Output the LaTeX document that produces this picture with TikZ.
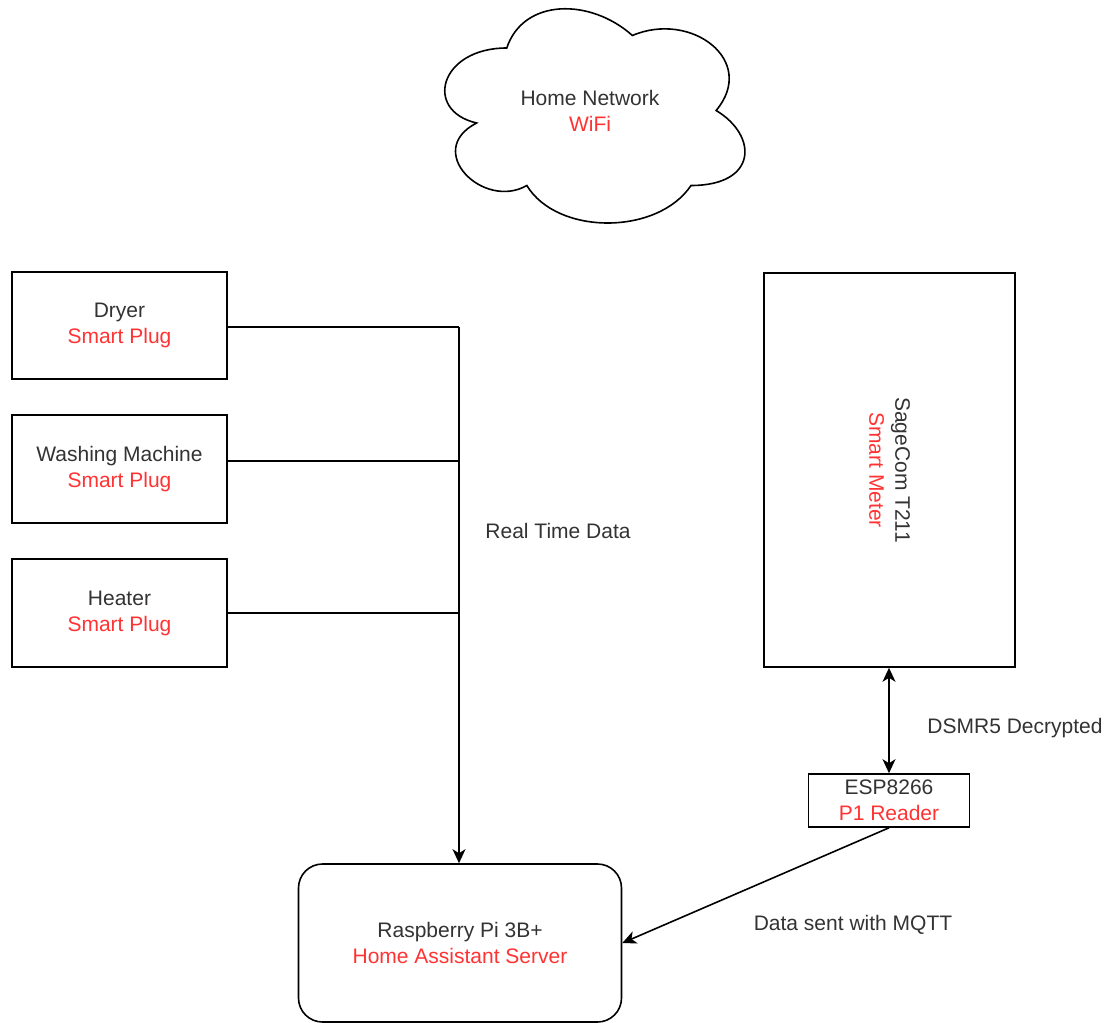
\documentclass[tikz,border=0pt]{standalone}
\usepackage{fontspec}
\setmainfont{Liberation Sans}
\usetikzlibrary{arrows.meta}
\definecolor{txtdark}{HTML}{333333}
\definecolor{txtred}{HTML}{FF3333}
\newcommand{\dk}[1]{\textcolor{txtdark}{#1}}
\newcommand{\rd}[1]{\textcolor{txtred}{#1}}
\begin{document}
\begin{tikzpicture}[x=1pt,y=-1pt,
  every node/.style={font=\fontsize{21}{26}\selectfont, text=txtdark},
  boxnode/.style={draw=black, line width=1.6pt, inner sep=0pt, align=center, fill=white},
  conn/.style={draw=black, line width=1.6pt},
  tip/.style={-{Stealth[length=14pt,width=13pt,inset=4pt]}},
  lbl/.style={inner sep=0pt}
]
\useasboundingbox (0,0) rectangle (1112,1023);
\fill[white] (0,0) rectangle (1112,1023);

% cloud
\draw[line width=1.6pt, fill=white]
  (506.75,48) .. controls (439.75,48) and (423,110.5) .. (476.6,123)
  .. controls (423,150.5) and (483.3,210.5) .. (526.85,185.5)
  .. controls (557,235.5) and (657.5,235.5) .. (691,185.5)
  .. controls (758,185.5) and (758,135.5) .. (716.125,110.5)
  .. controls (758,60.5) and (691,10.5) .. (632.375,35.5)
  .. controls (590.5,-2) and (523.5,-2) .. (506.75,48) -- cycle;
\node[lbl, align=center] (net) at (590,111) {\dk{Home Network}\\\rd{WiFi}};

% smart plugs
\node[boxnode, minimum width=215pt, minimum height=107pt] (dryer) at (119.5,325.5) {\dk{Dryer}\\\rd{Smart Plug}};
\node[boxnode, minimum width=215pt, minimum height=108pt] (wash) at (119.5,469) {\dk{Washing Machine}\\\rd{Smart Plug}};
\node[boxnode, minimum width=215pt, minimum height=108pt] (heat) at (119.5,613) {\dk{Heater}\\\rd{Smart Plug}};

% raspberry pi
\node[boxnode, rounded corners=24pt, minimum width=323pt, minimum height=158pt] (pi) at (460,943) {\dk{Raspberry Pi 3B+}\\\rd{Home Assistant Server}};

% smart meter
\node[boxnode, minimum width=251pt, minimum height=394pt] (meter) at (889.5,470) {};
\node[lbl, rotate=-90, align=center] (meterlbl) at (meter.center) {\dk{SageCom T211}\\\rd{Smart Meter}};

% esp
\node[boxnode, minimum width=161pt, minimum height=53pt] (esp) at (889,800.5) {\dk{ESP8266}\\\rd{P1 Reader}};

% junction
\coordinate (bus) at (459,327);

% connectors
\draw[conn] (dryer.east |- bus) -- (bus);
\draw[conn, tip] (bus) -- (bus |- pi.north);
\draw[conn] ([yshift=8pt]wash.east) -- ([yshift=8pt]wash.east -| bus);
\draw[conn] (heat.east) -- (heat.east -| bus);
\draw[conn, {Stealth[length=14pt,width=13pt,inset=4pt]}-{Stealth[length=14pt,width=13pt,inset=4pt]}] (meter.south -| esp.north) -- (esp.north);
\draw[conn, tip] ([xshift=0pt]esp.south) -- ([yshift=0pt]pi.east);

% labels
\node[lbl] (rtd) at (558,531) {\dk{Real Time Data}};
\node[lbl] (dsmr) at (1015,728) {\dk{DSMR5 Decrypted}};
\node[lbl] (mqtt) at (853,925) {\dk{Data sent with MQTT}};
\end{tikzpicture}
\end{document}
